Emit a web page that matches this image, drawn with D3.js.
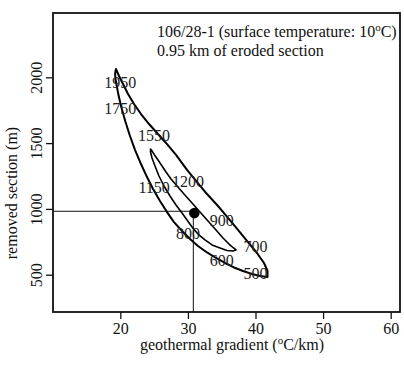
<!DOCTYPE html>
<html>
<head>
<meta charset="utf-8">
<script src="https://cdn.jsdelivr.net/npm/d3@7"></script>
<style>
  body { margin: 0; background: #fff; }
  svg { display: block; font-family: "Liberation Serif", "DejaVu Serif", serif; }
  .axis text { font-family: "Liberation Serif", serif; font-size: 16px; fill: #111; }
  .axis line { stroke: #111; stroke-width: 1.3; }
  .axis .domain { display: none; }
</style>
</head>
<body>
<svg id="chart"></svg>
<script>
const xTicks = [20, 30, 40, 50, 60];
const yTicks = [500, 1000, 1500, 2000];

// outer contour (geothermal gradient, removed section)
const outerContour = [
  [19.36, 2063], [19.81, 2010], [20.40, 1949], [21.14, 1873], [22.03, 1797], [23.06, 1721],
  [24.25, 1645], [25.43, 1577], [26.76, 1501], [28.24, 1410], [29.87, 1296], [31.35, 1204],
  [32.83, 1113], [34.45, 1022], [35.93, 931], [37.41, 840], [38.89, 748], [40.22, 665],
  [41.26, 589], [41.78, 528], [41.78, 482], [40.67, 490], [39.48, 505], [38.15, 528],
  [36.82, 555], [35.49, 589], [34.16, 627], [32.83, 669], [31.49, 718], [30.31, 771],
  [29.13, 832], [27.94, 900], [26.91, 976], [25.87, 1060], [24.84, 1151], [23.95, 1242],
  [23.06, 1341], [22.17, 1448], [21.43, 1554], [20.77, 1660], [20.18, 1767], [19.73, 1865],
  [19.36, 1964], [19.22, 2025]
];

// inner contour
const innerContour = [
  [24.47, 1455], [24.69, 1440], [25.06, 1410], [25.58, 1372], [26.17, 1326], [26.76, 1280],
  [27.50, 1227], [28.39, 1174], [29.42, 1113], [30.61, 1045], [31.79, 976], [32.97, 908],
  [34.16, 840], [35.19, 779], [36.08, 733], [36.75, 703], [37.12, 688], [36.67, 680],
  [35.78, 684], [34.75, 703], [33.57, 726], [32.53, 764], [31.49, 809], [30.61, 862],
  [29.87, 916], [29.13, 969], [28.24, 1030], [27.35, 1098], [26.46, 1174], [25.72, 1250],
  [25.13, 1326], [24.69, 1387], [24.47, 1432]
];

const labelText = ["1950", "1750", "1550", "1200", "1150", "900", "800", "700", "600", "500"];
const labelGradient = [20, 20, 25, 30, 25, 35, 30, 40, 35, 40];
const labelRemoved = [1950, 1750, 1550, 1200, 1150, 900, 800, 700, 600, 500];

const bestGradient = 30.95;
const bestRemoved = 968;
const guideGradient = 30.8;
const guideRemoved = 982;

const width = 404;
const height = 367;
const margin = { top: 13, right: 4, bottom: 55, left: 53 };
const innerWidth = width - margin.left - margin.right;
const innerHeight = height - margin.top - margin.bottom;

const svg = d3.select("#chart").attr("width", width).attr("height", height);
const root = svg.append("g").attr("transform", `translate(${margin.left},${margin.top})`);

const x = d3.scaleLinear().domain([10.04, 61.38]).range([0, innerWidth]);
const y = d3.scaleLinear().domain([216.6, 2488.6]).range([innerHeight, 0]);

// axes
root.append("g")
  .attr("class", "axis")
  .attr("transform", `translate(0,${innerHeight})`)
  .call(d3.axisBottom(x).tickValues(xTicks).tickFormat(d3.format("d")).tickSize(7).tickSizeOuter(0))
  .selectAll("text")
  .attr("y", 22)
  .attr("dy", 0);

const yAxis = root.append("g")
  .attr("class", "axis")
  .call(d3.axisLeft(y).tickValues(yTicks).tickFormat(d3.format("d")).tickSize(7).tickSizeOuter(0));

yAxis.selectAll("text")
  .attr("x", 0)
  .attr("y", -11)
  .attr("dy", 0)
  .attr("transform", "rotate(-90)")
  .attr("text-anchor", "middle");

// box
root.append("rect")
  .attr("width", innerWidth)
  .attr("height", innerHeight)
  .attr("fill", "none")
  .attr("stroke", "#111")
  .attr("stroke-width", 1.8);

// guide lines to the best estimate
root.append("line")
  .attr("x1", 0).attr("x2", x(bestGradient))
  .attr("y1", y(guideRemoved)).attr("y2", y(guideRemoved))
  .attr("stroke", "#111").attr("stroke-width", 1);

root.append("line")
  .attr("x1", x(guideGradient)).attr("x2", x(guideGradient))
  .attr("y1", innerHeight).attr("y2", y(bestRemoved))
  .attr("stroke", "#111").attr("stroke-width", 1);

const line = d3.line().x((d) => x(d[0])).y((d) => y(d[1])).curve(d3.curveLinearClosed);

root.append("path")
  .attr("d", line(outerContour))
  .attr("fill", "none")
  .attr("stroke", "#000")
  .attr("stroke-width", 2)
  .attr("stroke-linejoin", "round");

root.append("path")
  .attr("d", line(innerContour))
  .attr("fill", "none")
  .attr("stroke", "#000")
  .attr("stroke-width", 1.6)
  .attr("stroke-linejoin", "round");

root.append("circle")
  .attr("cx", x(bestGradient))
  .attr("cy", y(bestRemoved))
  .attr("r", 5.3)
  .attr("fill", "#000");

// contour labels
root.append("g")
  .selectAll("text")
  .data(labelText)
  .join("text")
  .attr("x", (d, i) => x(labelGradient[i]))
  .attr("y", (d, i) => y(labelRemoved[i]) + 4)
  .attr("text-anchor", "middle")
  .attr("font-size", "16px")
  .attr("fill", "#222")
  .text((d) => d);

// annotation
const note = root.append("g").attr("font-size", "16px").attr("fill", "#111");
const line1 = note.append("text").attr("x", 157 - margin.left).attr("y", 37 - margin.top);
line1.append("tspan").text("106/28-1 (surface temperature: 10");
line1.append("tspan").attr("font-size", "11px").attr("dy", -6).text("o");
line1.append("tspan").attr("dy", 6).text("C)");
note.append("text").attr("x", 157 - margin.left).attr("y", 56 - margin.top).text("0.95 km of eroded section");

// axis titles
const xTitle = svg.append("text")
  .attr("x", 232)
  .attr("y", 350)
  .attr("text-anchor", "middle")
  .attr("font-size", "16px")
  .attr("fill", "#111");
xTitle.append("tspan").text("geothermal gradient (");
xTitle.append("tspan").attr("font-size", "11px").attr("dy", -6).text("o");
xTitle.append("tspan").attr("dy", 6).text("C/km)");

svg.append("text")
  .attr("transform", "translate(17,193) rotate(-90)")
  .attr("text-anchor", "middle")
  .attr("font-size", "16px")
  .attr("fill", "#111")
  .text("removed section (m)");
</script>
</body>
</html>
